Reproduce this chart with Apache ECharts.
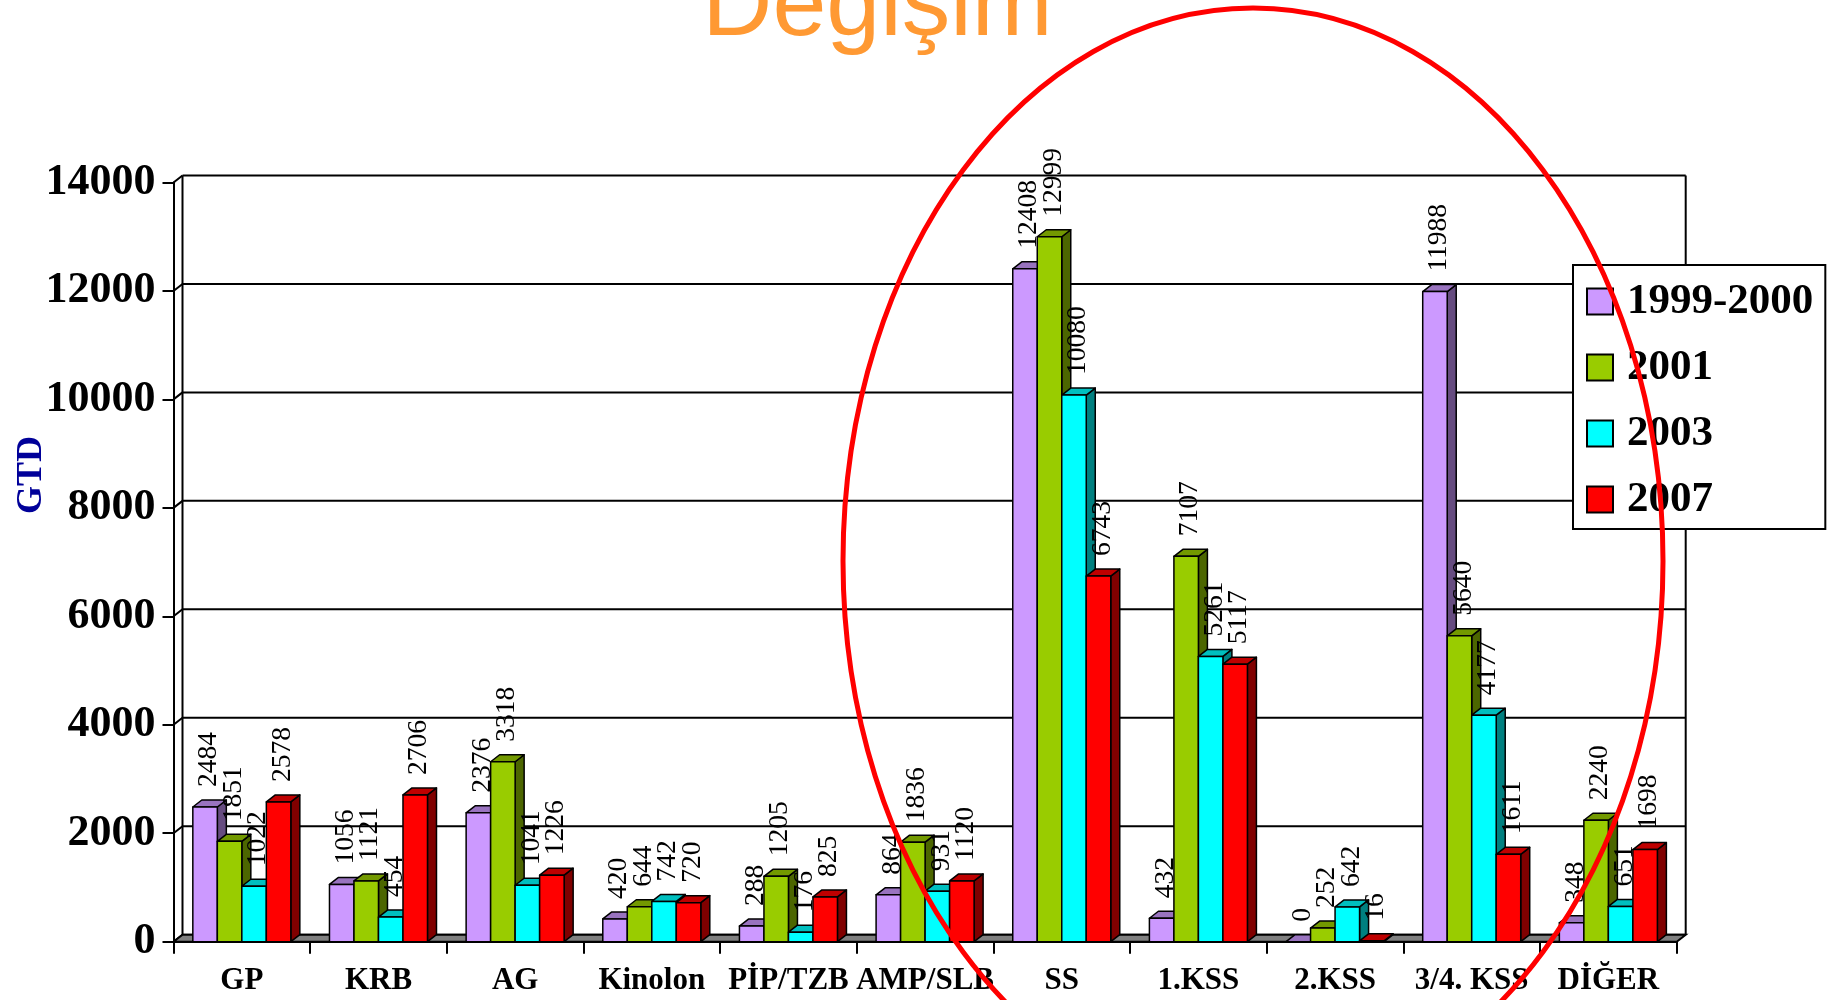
<!DOCTYPE html>
<html>
<head>
<meta charset="utf-8">
<script src="https://cdn.jsdelivr.net/npm/echarts@6/dist/echarts.min.js"></script>
<style>
  html, body { margin: 0; padding: 0; background: #fff; }
  #chart { width: 1829px; height: 1000px; }
</style>
</head>
<body>
<div id="chart"></div>
<script>
// Antibiotic use (GTD) by group and period
const categories = ['GP', 'KRB', 'AG', 'Kinolon', 'PİP/TZB', 'AMP/SLB', 'SS', '1.KSS', '2.KSS', '3/4. KSS', 'DİĞER'];
const seriesNames = ['1999-2000', '2001', '2003', '2007'];
const values1999_2000 = [2484, 1056, 2376, 420, 288, 864, 12408, 432, 0, 11988, 348];
const values2001      = [1851, 1121, 3318, 644, 1205, 1836, 12999, 7107, 252, 5640, 2240];
const values2003      = [1022, 454, 1041, 742, 176, 931, 10080, 5261, 642, 4177, 651];
const values2007      = [2578, 2706, 1226, 720, 825, 1120, 6743, 5117, 16, 1611, 1698];
const yTicks = [0, 2000, 4000, 6000, 8000, 10000, 12000, 14000];

const allValues = [values1999_2000, values2001, values2003, values2007];

// face colours of the pseudo-3D columns: front, top, side
const frontColors = ['#CC99FF', '#99CC00', '#00FFFF', '#FF0000'];
const topColors   = ['#9973BF', '#739900', '#00BFBF', '#BF0000'];
const sideColors  = ['#664C80', '#4C6600', '#008080', '#800000'];

// depth of the 3D projection in pixels
const DX = 9, DY = 7;
const serif = '"Liberation Serif", "Times New Roman", serif';

// back wall, left wall diagonals and floor, placed from the value axis
function renderFrame(params, api) {
  const v = api.value(1);
  const cs = params.coordSys;
  const x0 = cs.x, x1 = cs.x + cs.width;
  const y = api.coord([0, v])[1];
  const line = (ax, ay, bx, by) => ({
    type: 'line', shape: { x1: ax, y1: ay, x2: bx, y2: by },
    style: { stroke: '#000', lineWidth: 2 }
  });
  const children = [
    line(x0 + DX, y - DY, x1 + DX, y - DY),
    line(x0, y, x0 + DX, y - DY)
  ];
  if (params.dataIndex === 0) {
    const yTop = api.coord([0, yTicks[yTicks.length - 1]])[1];
    children.push({
      type: 'polygon',
      shape: { points: [[x0, y], [x1, y], [x1 + DX, y - DY], [x0 + DX, y - DY]] },
      style: { fill: '#808080', stroke: '#000', lineWidth: 2 }
    });
    children.push(line(x0 + DX, yTop - DY, x0 + DX, y - DY));
    children.push(line(x1 + DX, yTop - DY, x1 + DX, y - DY));
  }
  return { type: 'group', children: children };
}

// one pseudo-3D column with its rotated value label
function makeBarRenderer(s) {
  return function (params, api) {
    const cat = api.value(0), val = api.value(1);
    const band = api.size([1, 0])[0];
    const bw = band * 0.1793;
    const c = api.coord([cat, val]);
    const b = api.coord([cat, 0]);
    const xl = c[0] - 2 * bw + s * bw, xr = xl + bw;
    const yt = c[1], yb = b[1];
    const stroke = { stroke: '#000', lineWidth: 1.5, lineJoin: 'round' };
    return {
      type: 'group',
      children: [
        {
          type: 'polygon', z2: s * 10,
          shape: { points: [[xr, yt], [xr + DX, yt - DY], [xr + DX, yb - DY], [xr, yb]] },
          style: Object.assign({ fill: sideColors[s] }, stroke)
        },
        {
          type: 'polygon', z2: s * 10 + 1,
          shape: { points: [[xl, yt], [xl + DX, yt - DY], [xr + DX, yt - DY], [xr, yt]] },
          style: Object.assign({ fill: topColors[s] }, stroke)
        },
        {
          type: 'rect', z2: s * 10 + 2,
          shape: { x: xl, y: yt, width: bw, height: yb - yt },
          style: Object.assign({ fill: frontColors[s] }, stroke)
        },
        {
          type: 'text', z2: 200,
          x: xl + bw / 2 + 4, y: yt - 20, rotation: Math.PI / 2,
          style: {
            text: String(val), fill: '#000',
            font: '27.5px ' + serif,
            align: 'left', verticalAlign: 'middle'
          }
        }
      ]
    };
  };
}

const series = [{
  type: 'custom',
  name: 'frame',
  z: 1,
  silent: true,
  renderItem: renderFrame,
  data: yTicks.map(v => [0, v])
}];

seriesNames.forEach((name, s) => {
  series.push({
    type: 'custom',
    name: name,
    z: 2,
    itemStyle: { color: frontColors[s] },
    renderItem: makeBarRenderer(s),
    data: allValues[s].map((v, i) => [i, v])
  });
});

const chart = echarts.init(document.getElementById('chart'), null, { renderer: 'canvas' });
chart.setOption({
  animation: false,
  backgroundColor: '#fff',
  grid: { left: 173.5, right: 152.3, top: 182.5, bottom: 58.3 },
  xAxis: {
    type: 'category',
    data: categories,
    boundaryGap: true,
    axisLine: { lineStyle: { color: '#000', width: 2 } },
    axisTick: { show: true, interval: 0, length: 12, lineStyle: { color: '#000', width: 2 } },
    axisLabel: {
      interval: 0, margin: 24, color: '#000',
      fontFamily: serif, fontWeight: 'bold', fontSize: 31
    },
    splitLine: { show: false }
  },
  yAxis: {
    type: 'value',
    min: 0, max: 14000, interval: 2000,
    axisLine: { show: true, lineStyle: { color: '#000', width: 2 } },
    axisTick: { show: true, length: 11, lineStyle: { color: '#000', width: 2 } },
    axisLabel: {
      margin: 18, color: '#000',
      fontFamily: serif, fontWeight: 'bold', fontSize: 44,
      formatter: v => String(v)
    },
    splitLine: { show: false }
  },
  legend: {
    data: seriesNames,
    orient: 'vertical',
    left: 1573, top: 265,
    itemWidth: 26, itemHeight: 26, itemGap: 23,
    icon: 'rect',
    itemStyle: { borderColor: '#000', borderWidth: 2 },
    textStyle: {
      fontFamily: serif, fontWeight: 'bold', fontSize: 43, color: '#000',
      lineHeight: 43, padding: [0, 0, 0, 9]
    },
    padding: [15, 12, 8, 13],
    borderColor: '#000', borderWidth: 2, backgroundColor: '#fff'
  },
  graphic: [
    {
      type: 'text', x: 877.5, y: 8, z: 10,
      style: {
        text: 'Değişim', fill: '#FF9933',
        font: '97px "Liberation Sans", Arial, sans-serif',
        align: 'center', verticalAlign: 'middle'
      }
    },
    {
      type: 'text', x: 31.5, y: 475, rotation: Math.PI / 2, z: 10,
      style: {
        text: 'GTD', fill: '#000099',
        font: 'bold 36px ' + serif,
        align: 'center', verticalAlign: 'middle',
        shadowColor: 'rgba(0,0,0,0.35)', shadowOffsetX: 2, shadowOffsetY: 2, shadowBlur: 0
      }
    },
    {
      type: 'ellipse', z: 100, silent: true,
      shape: { cx: 1253, cy: 561, rx: 410, ry: 553 },
      style: { fill: 'none', stroke: '#FF0000', lineWidth: 5 }
    }
  ],
  series: series
});
</script>
</body>
</html>
